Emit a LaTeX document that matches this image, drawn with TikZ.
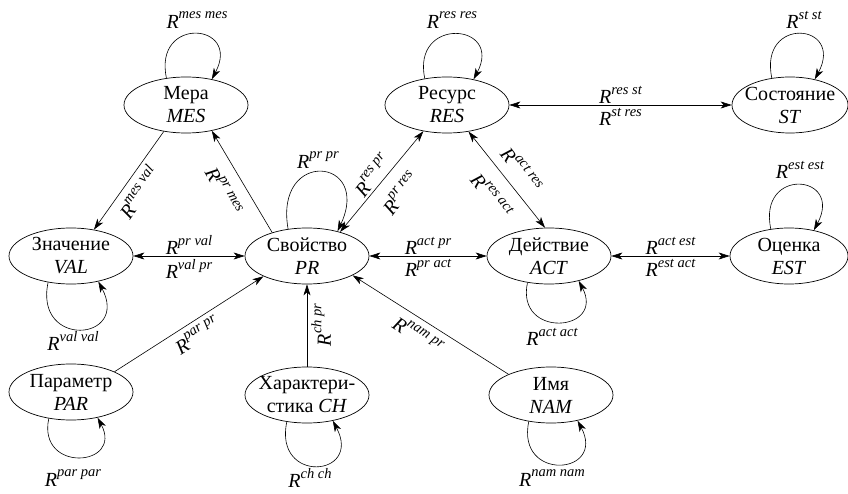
\documentclass[tikz,border=0pt]{standalone}
\usepackage{fontspec}
\setmainfont{Liberation Serif}
\usetikzlibrary{shapes.geometric,arrows.meta}
\newcommand\Rsup[1]{\textit{R}\raisebox{9.5pt}{\fontsize{14.5}{14.5}\selectfont\itshape #1}}
\begin{document}
\begin{tikzpicture}[x=1pt,y=1pt,
  ent/.style={draw, ellipse, line width=0.7pt, minimum width=124pt, minimum height=56pt, inner sep=0pt},
  entxt/.style={align=center, inner sep=0pt, font=\rmfamily\fontsize{20}{23}\selectfont},
  arr/.style={line width=0.6pt, -{Stealth[length=11pt,width=7pt,inset=3pt]}},
  darr/.style={line width=0.6pt, {Stealth[length=11pt,width=7pt,inset=3pt]}-{Stealth[length=11pt,width=7pt,inset=3pt]}},
  lbl/.style={font=\rmfamily\fontsize{20}{20}\selectfont, inner sep=1pt},
]
\useasboundingbox (0,0) rectangle (848,493);

% entities
\node[ent] (MES) at (186,388) {};
\node[entxt] (MESt) at (MES) {Мера\\\textit{MES}};
\node[ent] (RES) at (447,388) {};
\node[entxt] (RESt) at (RES) {Ресурс\\\textit{RES}};
\node[ent, minimum width=116pt] (ST) at (790,388) {};
\node[entxt] (STt) at (ST) {Состояние\\\textit{ST}};
\node[ent] (VAL) at (71,237) {};
\node[entxt] (VALt) at (VAL) {Значение\\\textit{VAL}};
\node[ent] (PR) at (307,237) {};
\node[entxt] (PRt) at (PR) {Свойство\\\textit{PR}};
\node[ent] (ACT) at (549,237) {};
\node[entxt] (ACTt) at (ACT) {Действие\\\textit{ACT}};
\node[ent, minimum width=118pt] (EST) at (789,237) {};
\node[entxt] (ESTt) at (EST) {Оценка\\\textit{EST}};
\node[ent] (PAR) at (71,101) {};
\node[entxt] (PARt) at (PAR) {Параметр\\\textit{PAR}};
\node[ent] (CH) at (307,98) {};
\node[entxt] (CHt) at (CH) {Характери-\\стика \textit{CH}};
\node[ent] (NAM) at (551,98) {};
\node[entxt] (NAMt) at (NAM) {Имя\\\textit{NAM}};

% horizontal relations
\draw[darr] (VAL) -- (PR)
  node[lbl, midway, above=0pt] {\Rsup{pr val}}
  node[lbl, midway, below=2pt] {\Rsup{val pr}};
\draw[darr] (PR) -- (ACT)
  node[lbl, midway, above=0pt] {\Rsup{act pr}}
  node[lbl, midway, below=2pt] {\Rsup{pr act}};
\draw[darr] (ACT) -- (EST)
  node[lbl, midway, above=0pt] {\Rsup{act est}}
  node[lbl, midway, below=2pt] {\Rsup{est act}};
\draw[darr] (RES) -- (ST)
  node[lbl, midway, above=0pt] {\Rsup{res st}}
  node[lbl, midway, below=2pt] {\Rsup{st res}};

% sloped relations
\draw[arr] (MES.230) -- (VAL.49);
\draw[arr] (PR.146) -- (MES.315);
\draw[darr] (PR.36) -- (RES.228);
\draw[darr] (RES.309) -- (ACT.98);
\draw[arr] (PAR.25) -- (PR.205);
\draw[arr] (CH) -- (PR);
\draw[arr] (NAM.154) -- (PR.337);

\node[lbl, rotate=55] (lMESVAL) at (138,301) {\Rsup{mes val}};
\node[lbl, rotate=-61] (lPRMES) at (224,302) {\Rsup{pr mes}};
\node[lbl, rotate=52] (lRESPR) at (372,318) {\Rsup{res pr}};
\node[lbl, rotate=52] (lPRRES) at (400,300) {\Rsup{pr res}};
\node[lbl, rotate=-52] (lACTRES) at (522,324) {\Rsup{act res}};
\node[lbl, rotate=-52] (lRESACT) at (492,298) {\Rsup{res act}};
\node[lbl, rotate=33] (lPARPR) at (197,158) {\Rsup{par pr}};
\node[lbl, rotate=90] (lCHPR) at (321,168) {\Rsup{ch pr}};
\node[lbl, rotate=-33] (lNAMPR) at (418,158) {\Rsup{nam pr}};

% loops
\draw[arr] (MES.126) to[out=102,in=62,distance=64] (MES.45);
\draw[arr] (RES.130) to[out=102,in=62,distance=64] (RES.44);
\draw[arr] (PR.125) to[out=100,in=65,distance=82] (PR.39);
\draw[arr] (ST.124) to[out=102,in=62,distance=64] (ST.46);
\draw[arr] (EST.124) to[out=102,in=62,distance=64] (EST.46);
\draw[arr] (VAL.229) to[out=258,in=298,distance=68] (VAL.317);
\draw[arr] (ACT.231) to[out=258,in=298,distance=58] (ACT.320);
\draw[arr] (PAR.230) to[out=258,in=298,distance=56] (PAR.316);
\draw[arr] (CH.233) to[out=258,in=298,distance=64] (CH.315);
\draw[arr] (NAM.230) to[out=258,in=298,distance=62] (NAM.316);

% loop labels
\node[lbl] (lMES) at (197,473) {\Rsup{mes mes}};
\node[lbl] (lRES) at (452,473) {\Rsup{res res}};
\node[lbl] (lPR) at (318,333) {\Rsup{pr pr}};
\node[lbl] (lST) at (804,473) {\Rsup{st st}};
\node[lbl] (lEST) at (800,323) {\Rsup{est est}};
\node[lbl] (lVAL) at (73,152) {\Rsup{val val}};
\node[lbl] (lACT) at (552,156) {\Rsup{act act}};
\node[lbl] (lPAR) at (73,15) {\Rsup{par par}};
\node[lbl] (lCH) at (310,15) {\Rsup{ch ch}};
\node[lbl] (lNAM) at (552,15) {\Rsup{nam nam}};
\end{tikzpicture}
\end{document}
